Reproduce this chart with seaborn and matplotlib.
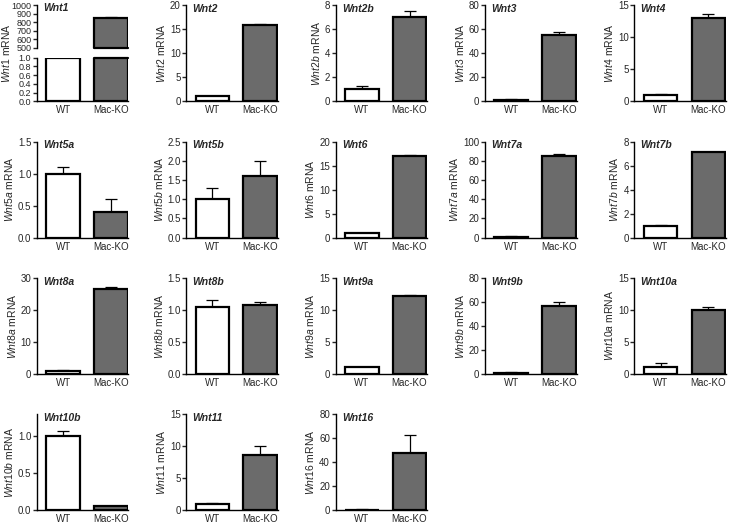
import numpy as np
import pandas as pd
import seaborn as sns
import matplotlib.pyplot as plt

# values (mean and upper SEM)
genes = ['Wnt1', 'Wnt2', 'Wnt2b', 'Wnt3', 'Wnt4',
         'Wnt5a', 'Wnt5b', 'Wnt6', 'Wnt7a', 'Wnt7b',
         'Wnt8a', 'Wnt8b', 'Wnt9a', 'Wnt9b', 'Wnt10a',
         'Wnt10b', 'Wnt11', 'Wnt16']
groups = ['WT', 'Mac-KO']
wt_mean = [1.0, 1.0, 1.0, 1.0, 1.0, 1.0, 1.0, 1.0, 1.0, 1.0,
           1.0, 1.05, 1.0, 1.0, 1.1, 1.0, 1.0, 0.5]
wt_sem = [0.0, 0.05, 0.3, 0.5, 0.1, 0.1, 0.3, 0.05, 0.1, 0.08,
          0.15, 0.11, 0.05, 0.2, 0.6, 0.07, 0.1, 0.3]
ko_mean = [855, 15.8, 7.0, 55, 13.0, 0.4, 1.6, 17.0, 85, 7.15,
           26.5, 1.07, 12.2, 56.5, 9.9, 0.05, 8.6, 48]
ko_sem = [8, 0.25, 0.5, 3, 0.6, 0.2, 0.4, 0.2, 2.5, 0.0,
          0.5, 0.06, 0.1, 3, 0.6, 0.01, 1.5, 15]
y_top = [1.0, 20, 8, 80, 15, 1.5, 2.5, 20, 100, 8,
         30, 1.5, 15, 80, 15, 1.3, 15, 80]
y_step = [0.2, 5, 2, 20, 5, 0.5, 0.5, 5, 20, 2,
          10, 0.5, 5, 20, 5, 0.5, 5, 20]
wnt1_top_ticks = [500, 600, 700, 800, 900, 1000]

sns.set_style('ticks')
plt.rcParams['font.family'] = ['Liberation Sans', 'DejaVu Sans']
plt.rcParams['mathtext.fontset'] = 'custom'
plt.rcParams['mathtext.it'] = 'Liberation Sans:italic'
plt.rcParams['mathtext.rm'] = 'Liberation Sans'

palette = ['white', '#6b6b6b']


def draw_bars(ax, i):
    df = pd.DataFrame({'group': groups, 'value': [wt_mean[i], ko_mean[i]]})
    sns.barplot(data=df, x='group', y='value', hue='group', palette=palette,
                edgecolor='black', linewidth=1.6, width=0.7, errorbar=None,
                legend=False, ax=ax, zorder=3)
    ax.errorbar([0, 1], df['value'], yerr=[[0, 0], [wt_sem[i], ko_sem[i]]],
                fmt='none', ecolor='black', elinewidth=0.9, capsize=4,
                capthick=0.9, zorder=2)
    ax.set_xlim(-0.55, 1.37)
    ax.set_xlabel('')
    ax.set_ylabel('')


def style(ax, bottom=True, size=7):
    sns.despine(ax=ax, bottom=not bottom)
    for s in ['left', 'bottom']:
        ax.spines[s].set_linewidth(1.0)
        ax.spines[s].set_color('black')
    ax.tick_params(axis='y', length=3, width=1, labelsize=size, pad=1)
    ax.tick_params(axis='x', length=0, labelsize=7, pad=3)


def fmt(v, step):
    return f'{v:.1f}' if step < 1 else f'{int(round(v))}'


fig, axes = plt.subplots(4, 5, figsize=(7.37, 5.27), dpi=100)
plt.subplots_adjust(left=0.05, right=0.985, top=0.99, bottom=0.032,
                    wspace=0.63, hspace=0.42)
axes = axes.flatten()
axes[18].axis('off')
axes[19].axis('off')

for i, gene in enumerate(genes):
    ax = axes[i]
    if i == 0:
        # broken axis for Wnt1
        pos = ax.get_position()
        ax.remove()
        h = pos.height
        ax_lo = fig.add_axes([pos.x0, pos.y0, pos.width, h * 0.455])
        ax_hi = fig.add_axes([pos.x0, pos.y0 + h * 0.555, pos.width, h * 0.445])
        for a in (ax_lo, ax_hi):
            draw_bars(a, i)
        ax_lo.set_ylim(0, 1.0)
        ticks = np.arange(0, 1.0001, 0.2)
        ax_lo.set_yticks(ticks)
        ax_lo.set_yticklabels([fmt(t, 0.2) for t in ticks])
        ax_hi.set_ylim(500, 1000)
        ax_hi.set_yticks(wnt1_top_ticks)
        ax_hi.set_yticklabels([str(t) for t in wnt1_top_ticks])
        ax_hi.set_xticks([])
        style(ax_lo, size=6.5)
        style(ax_hi, bottom=False, size=6.5)
        # close the cut bar edges at the break
        for a in (ax_lo, ax_hi):
            p = a.patches[1]
            yb = a.get_ylim()[1] if a is ax_lo else a.get_ylim()[0]
            a.plot([p.get_x(), p.get_x() + p.get_width()], [yb, yb],
                   color='black', lw=1.6, clip_on=False, zorder=4)
        ax_lo.set_ylabel(r'$\mathit{' + gene + r'}$ mRNA', fontsize=7.5)
        ax_lo.yaxis.set_label_coords(-0.27, 1.1)
        ax_hi.text(0.07, 0.93, gene, transform=ax_hi.transAxes, ha='left',
                   va='center', fontsize=7.5, fontweight='bold', style='italic')
        continue
    draw_bars(ax, i)
    ax.set_ylim(0, y_top[i])
    ticks = np.arange(0, y_top[i] + 1e-9, y_step[i])
    ax.set_yticks(ticks)
    ax.set_yticklabels([fmt(t, y_step[i]) for t in ticks])
    style(ax)
    ax.set_ylabel(r'$\mathit{' + gene + r'}$ mRNA', fontsize=7.5, labelpad=2)
    ax.text(0.07, 0.96, gene, transform=ax.transAxes, ha='left', va='center',
            fontsize=7.5, fontweight='bold', style='italic')

plt.savefig('out.png', dpi=100)
